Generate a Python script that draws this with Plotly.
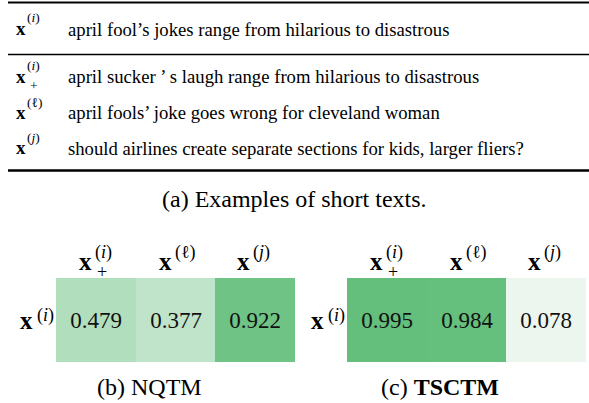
import plotly.graph_objects as go

W, H = 589, 403
SERIF = "Liberation Serif"

# ---- data ----
table_labels = ["i", "+i", "ℓ", "j"]
table_texts = [
    "april fool’s jokes range from hilarious to disastrous",
    "april sucker ’ s laugh range from hilarious to disastrous",
    "april fools’ joke goes wrong for cleveland woman",
    "should airlines create separate sections for kids, larger fliers?",
]
col_labels = ["+i", "ℓ", "j"]
row_label = "i"
nqtm_values = [0.479, 0.377, 0.922]
tsctm_values = [0.995, 0.984, 0.078]
caption_a = "(a) Examples of short texts."
caption_b = "(b) NQTM"
caption_c = "(c) <b>TSCTM</b>"

fig = go.Figure()
anns = []


def A(x, y, text, size, xanchor="left", **kw):
    anns.append(dict(x=x, y=y, xref="x", yref="y", text=text, showarrow=False,
                     xanchor=xanchor, yanchor="middle",
                     font=dict(family=SERIF, size=size, color="black"), **kw))


def math_x(xl, yx, sup_xl, sup_y, label, size, sup_size, plus=None):
    A(xl, yx, "<b>x</b>", size)
    sym = label.replace("+", "")
    A(sup_xl, sup_y, "(<i>%s</i>)" % sym if sym != "ℓ" else "(ℓ)", sup_size)
    if label.startswith("+") and plus is not None:
        A(plus[0], plus[1], "+", sup_size)


# ---- table (a) ----
row_y = [30.5, 78, 114, 149.5]
sup_y = [19, 67, 104, 139]
for k, (lab, txt) in enumerate(zip(table_labels, table_texts)):
    math_x(13.5, row_y[k] - 2, 24.5, sup_y[k] - 1.5, lab, 19, 13.5,
           plus=(27.5, 85))
    A(65.5, row_y[k] - 1.5, txt, 18.7)

shapes = [
    dict(type="line", xref="x", yref="y", x0=8, x1=589, y0=2.5, y1=2.5,
         line=dict(color="black", width=2.2)),
    dict(type="line", xref="x", yref="y", x0=8, x1=589, y0=54.5, y1=54.5,
         line=dict(color="black", width=1.3)),
    dict(type="line", xref="x", yref="y", x0=8, x1=589, y0=170.5, y1=170.5,
         line=dict(color="black", width=2.4)),
]

A(294, 199, caption_a, 24, xanchor="center")

# ---- heatmaps ----
panels = [(56, nqtm_values, caption_b, 149.5, "x2", "y2"),
          (347, tsctm_values, caption_c, 440, "x3", "y3")]
top, bottom = 278, 362
for left, vals, cap, capx, xa, ya in panels:
    fig.add_trace(go.Heatmap(
        z=[vals], x=col_labels, y=[row_label],
        zmin=0, zmax=1,
        colorscale=[[0, "rgb(248,251,249)"], [1, "rgb(99,190,123)"]],
        showscale=False, texttemplate="%{z:.3f}",
        textfont=dict(family=SERIF, size=23, color="#111"),
        hoverinfo="skip", xaxis=xa, yaxis=ya))
    for c in range(3):
        cx = left + 40 + 80 * c
        xl = cx - 19 if c < 2 else cx - 21
        math_x(xl, 261.5, xl + 16, 252.5, col_labels[c], 25, 18, plus=(xl + 17.5, 272))
    math_x(left - 38, 320.5, left - 21, 315, row_label, 25, 18)
    A(capx, 387, cap, 24, xanchor="center")

ax_hidden = dict(showgrid=False, zeroline=False, showticklabels=False,
                 ticks="", showline=False)
layout = dict(
    width=W, height=H, margin=dict(l=0, r=0, t=0, b=0),
    paper_bgcolor="white", plot_bgcolor="rgba(0,0,0,0)",
    xaxis=dict(range=[0, W], domain=[0, 1], **ax_hidden),
    yaxis=dict(range=[H, 0], domain=[0, 1], **ax_hidden),
    annotations=anns, shapes=shapes, showlegend=False,
)
for left, _, _, _, xa, ya in panels:
    n = xa[1:]
    layout["xaxis" + n] = dict(domain=[left / W, (left + 239) / W], anchor="y" + n,
                               type="category", **ax_hidden)
    layout["yaxis" + n] = dict(domain=[1 - bottom / H, 1 - top / H], anchor="x" + n,
                               type="category", **ax_hidden)
fig.update_layout(**layout)
fig.write_html("out.html", config={"displayModeBar": False},
               post_script="document.body.style.margin='0';"
                           "document.body.style.overflow='hidden';")
